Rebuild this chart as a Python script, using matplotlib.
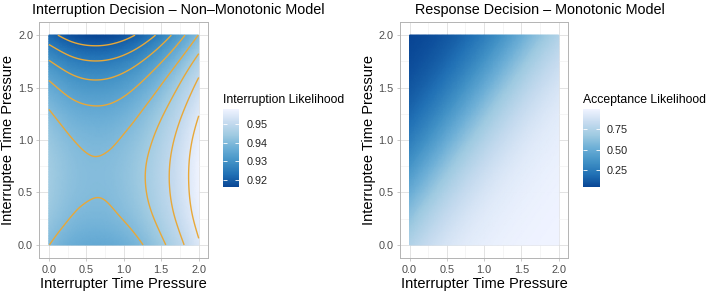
import numpy as np
import matplotlib
matplotlib.use("Agg")
import matplotlib.pyplot as plt
import matplotlib.tri as mtri
from matplotlib.colors import LinearSegmentedColormap, Normalize

plt.rcParams['font.family'] = ['Liberation Sans', 'DejaVu Sans']

# grid of time pressure values
x_pressure = [0.0, 0.25, 0.5, 0.75, 1.0, 1.25, 1.5, 1.75, 2.0]
y_pressure = [0.0, 0.25, 0.5, 0.75, 1.0, 1.25, 1.5, 1.75, 2.0]

# interruption likelihood, one row per interruptee pressure (y), columns = interrupter pressure (x)
interruption = [
    [0.9401, 0.9372, 0.9358, 0.9357, 0.9371, 0.9399, 0.9439, 0.9488, 0.9544],
    [0.9429, 0.9402, 0.9388, 0.9388, 0.9402, 0.9428, 0.9466, 0.9513, 0.9566],
    [0.9444, 0.9417, 0.9404, 0.9403, 0.9417, 0.9443, 0.9480, 0.9525, 0.9577],
    [0.9445, 0.9419, 0.9405, 0.9405, 0.9418, 0.9444, 0.9481, 0.9526, 0.9578],
    [0.9433, 0.9406, 0.9392, 0.9391, 0.9405, 0.9431, 0.9469, 0.9516, 0.9569],
    [0.9406, 0.9378, 0.9364, 0.9363, 0.9377, 0.9405, 0.9444, 0.9493, 0.9548],
    [0.9364, 0.9334, 0.9318, 0.9318, 0.9333, 0.9363, 0.9405, 0.9457, 0.9516],
    [0.9303, 0.9270, 0.9253, 0.9253, 0.9269, 0.9301, 0.9347, 0.9404, 0.9468],
    [0.9218, 0.9182, 0.9163, 0.9163, 0.9181, 0.9216, 0.9267, 0.9331, 0.9402],
]

# acceptance likelihood, same layout
acceptance = [
    [0.750, 0.837, 0.898, 0.938, 0.963, 0.978, 0.987, 0.992, 0.995],
    [0.636, 0.750, 0.837, 0.898, 0.938, 0.963, 0.978, 0.987, 0.992],
    [0.505, 0.636, 0.750, 0.837, 0.898, 0.938, 0.963, 0.978, 0.987],
    [0.374, 0.505, 0.636, 0.750, 0.837, 0.898, 0.938, 0.963, 0.978],
    [0.259, 0.374, 0.505, 0.636, 0.750, 0.837, 0.898, 0.938, 0.963],
    [0.169, 0.259, 0.374, 0.505, 0.636, 0.750, 0.837, 0.898, 0.938],
    [0.106, 0.169, 0.259, 0.374, 0.505, 0.636, 0.750, 0.837, 0.898],
    [0.065, 0.106, 0.169, 0.259, 0.374, 0.505, 0.636, 0.750, 0.837],
    [0.039, 0.065, 0.106, 0.169, 0.259, 0.374, 0.505, 0.636, 0.750],
]

contour_levels = [0.920, 0.925, 0.930, 0.935, 0.940, 0.945, 0.950, 0.955]
interruption_ticks = [0.92, 0.93, 0.94, 0.95]
acceptance_ticks = [0.25, 0.50, 0.75]
axis_ticks = [0.0, 0.5, 1.0, 1.5, 2.0]

blues = LinearSegmentedColormap.from_list(
    'blues', ['#084594', '#2171B5', '#4292C6', '#6BAED6', '#9ECAE1', '#C6DBEF', '#EFF3FF'])

fig = plt.figure(figsize=(7.13, 2.93), dpi=100)
W, H = 713, 293


def px_axes(x0, y0, x1, y1):
    return fig.add_axes([x0 / W, 1 - y1 / H, (x1 - x0) / W, (y1 - y0) / H])


def draw_panel(ax, cax, z, title, legend_title, cb_ticks, title_x, levels=None):
    X, Y = np.meshgrid(x_pressure, y_pressure)
    tri = mtri.Triangulation(X.ravel(), Y.ravel())
    # smooth the surface for display with matplotlib's cubic refiner
    tri_f, z_f = mtri.UniformTriRefiner(tri).refine_field(np.asarray(z).ravel(), subdiv=4)
    norm = Normalize(z_f.min(), z_f.max())
    tpc = ax.tripcolor(tri_f, z_f, shading='gouraud', cmap=blues, norm=norm, zorder=2)
    if levels is not None:
        ax.tricontour(tri_f, z_f, levels=levels, colors='#E8A838', linewidths=1.0, zorder=3)

    ax.set_xlim(-0.1275, 2.1275)
    ax.set_ylim(-0.1275, 2.1275)
    ax.set_xticks(axis_ticks)
    ax.set_yticks(axis_ticks)
    ax.set_xticklabels(['%.1f' % t for t in axis_ticks])
    ax.set_yticklabels(['%.1f' % t for t in axis_ticks])
    ax.set_xticks([0.25, 0.75, 1.25, 1.75], minor=True)
    ax.set_yticks([0.25, 0.75, 1.25, 1.75], minor=True)
    ax.grid(which='major', color='#DEDEDE', linewidth=0.6, zorder=0)
    ax.grid(which='minor', color='#EEEEEE', linewidth=0.4, zorder=0)
    ax.set_axisbelow(True)
    ax.tick_params(which='major', length=2.5, width=0.5, color='#B3B3B3',
                   labelsize=7.8, labelcolor='#4D4D4D', pad=2)
    ax.tick_params(which='minor', length=0)
    for s in ax.spines.values():
        s.set_color('#B3B3B3')
        s.set_linewidth(0.7)
    ax.set_xlabel('Interrupter Time Pressure', fontsize=10.5, labelpad=2)
    ax.set_ylabel('Interruptee Time Pressure', fontsize=10.5, labelpad=2)

    fig.text(title_x / W, 1 - 14 / H, title, ha='center', va='baseline', fontsize=10.4)

    cb = fig.colorbar(tpc, cax=cax)
    cb.outline.set_visible(False)
    cb.set_ticks(cb_ticks)
    cb.set_ticklabels(['%.2f' % t for t in cb_ticks])
    cb.minorticks_off()
    cax.tick_params(direction='in', color='white', length=3, width=0.6,
                    left=True, right=True, labelsize=7.8, labelcolor='#222222', pad=5)
    pos = cax.get_position()
    fig.text(pos.x0, 1 - 103 / H, legend_title, ha='left', va='baseline', fontsize=8.8)


ax1 = px_axes(39.3, 21.7, 208.3, 258.3)
cax1 = px_axes(223.3, 109.3, 239.3, 187.3)
draw_panel(ax1, cax1, interruption, 'Interruption Decision – Non–Monotonic Model',
           'Interruption Likelihood', interruption_ticks, 178, contour_levels)

ax2 = px_axes(400.0, 21.7, 568.3, 258.3)
cax2 = px_axes(583.3, 109.3, 600.0, 187.3)
draw_panel(ax2, cax2, acceptance, 'Response Decision – Monotonic Model',
           'Acceptance Likelihood', acceptance_ticks, 540)

fig.savefig('out.png', dpi=100)
